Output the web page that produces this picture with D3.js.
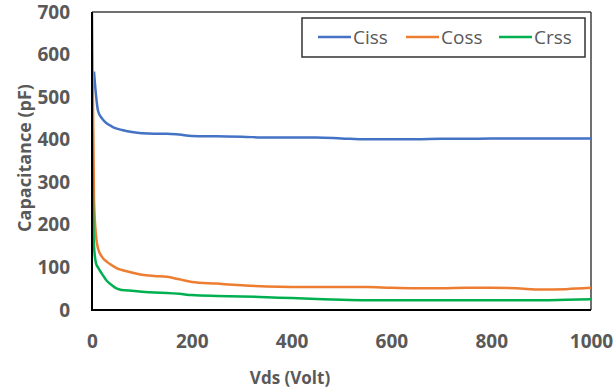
<!DOCTYPE html>
<html>
<head>
<meta charset="utf-8">
<script src="https://cdn.jsdelivr.net/npm/d3@7"></script>
<style>
  body { margin: 0; background: #fff; }
  text { font-family: "Open Sans", sans-serif; }
</style>
</head>
<body>
<svg width="614" height="390"></svg>
<script>
// Vds sweep (Volt)
const vds = [0, 4, 8, 12, 20, 30, 40, 50, 60, 80, 100, 125, 150, 175, 200, 250, 300,
  350, 400, 450, 500, 550, 600, 650, 700, 750, 800, 850, 900, 950, 1000];
// capacitances (pF)
const ciss = [null, 560, 505, 468, 450, 438, 431, 426, 423, 418, 415, 414, 414, 412, 409, 408, 407,
  405, 405, 405, 403, 401, 401, 401, 402, 402, 403, 403, 403, 403, 403];
const coss = [700, 260, 175, 145, 125, 113, 105, 98, 94, 88, 83, 80, 78, 72, 66, 62, 58,
  55, 54, 54, 54, 54, 52, 51, 51, 52, 52, 51, 48, 49, 52];
const crss = [423, 150, 110, 100, 85, 68, 58, 50, 47, 45, 43, 41, 40, 38, 35, 33, 32,
  30, 28, 26, 24, 23, 23, 23, 23, 23, 23, 23, 23, 24, 25];
const seriesNames = ['Ciss', 'Coss', 'Crss'];
const seriesColors = ['#4472C4', '#ED7D31', '#00B050'];
const xTicks = [0, 200, 400, 600, 800, 1000];
const yTicks = [0, 100, 200, 300, 400, 500, 600, 700];

const svg = d3.select('svg');
const margin = {left: 92, top: 12, right: 591, bottom: 310};

const x = d3.scaleLinear().domain([0, 1000]).range([margin.left, margin.right]);
const y = d3.scaleLinear().domain([0, 700]).range([margin.bottom, margin.top]);

svg.append('clipPath').attr('id', 'plot')
  .append('rect')
  .attr('x', margin.left).attr('y', margin.top - 2)
  .attr('width', margin.right - margin.left).attr('height', margin.bottom - margin.top + 2);

// tick labels
const yAxis = svg.append('g')
  .attr('transform', 'translate(70,0)')
  .call(d3.axisLeft(y).tickValues(yTicks).tickFormat(d3.format('d')).tickSize(0).tickPadding(0));
const xAxis = svg.append('g')
  .attr('transform', 'translate(0,334)')
  .call(d3.axisBottom(x).tickValues(xTicks).tickFormat(d3.format('d')).tickSize(0).tickPadding(0));
[yAxis, xAxis].forEach(a => {
  a.select('.domain').remove();
  a.selectAll('text')
    .style('font-family', '"Open Sans", sans-serif')
    .style('font-size', '19px')
    .style('font-weight', 'bold')
    .attr('fill', '#595959');
});

// frame
svg.append('line').attr('x1', margin.left).attr('x2', margin.right)
  .attr('y1', margin.top).attr('y2', margin.top)
  .attr('stroke', '#404040').attr('stroke-width', 1.5);
svg.append('line').attr('x1', margin.right).attr('x2', margin.right)
  .attr('y1', margin.top).attr('y2', margin.bottom)
  .attr('stroke', '#404040').attr('stroke-width', 1.5);

// series
const allSeries = [ciss, coss, crss];
const line = d3.line()
  .defined(d => d[1] != null)
  .x(d => x(d[0]))
  .y(d => y(d[1]))
  .curve(d3.curveMonotoneX);

allSeries.forEach((vals, i) => {
  svg.append('path')
    .datum(vds.map((v, j) => [v, vals[j]]))
    .attr('clip-path', 'url(#plot)')
    .attr('fill', 'none')
    .attr('stroke', seriesColors[i])
    .attr('stroke-width', 2.5)
    .attr('stroke-linejoin', 'round')
    .attr('d', line);
});

svg.append('line').attr('x1', margin.left).attr('x2', margin.left)
  .attr('y1', margin.top).attr('y2', margin.bottom + 1)
  .attr('stroke', '#000').attr('stroke-width', 2);
svg.append('line').attr('x1', margin.left).attr('x2', margin.right)
  .attr('y1', margin.bottom).attr('y2', margin.bottom)
  .attr('stroke', '#000').attr('stroke-width', 2);

// axis titles
svg.append('text')
  .attr('x', 290).attr('y', 384)
  .attr('text-anchor', 'middle')
  .style('font-size', '17px').style('font-weight', 'bold')
  .attr('fill', '#595959')
  .text('Vds (Volt)');
svg.append('text')
  .attr('transform', 'translate(31,158) rotate(-90)')
  .attr('text-anchor', 'middle')
  .style('font-size', '18px').style('font-weight', 'bold')
  .attr('fill', '#595959')
  .text('Capacitance (pF)');

// legend
const legend = svg.append('g');
legend.append('rect')
  .attr('x', 302).attr('y', 18).attr('width', 283).attr('height', 39)
  .attr('fill', '#fff').attr('stroke', '#333').attr('stroke-width', 1.5);
const legendX = [318, 406, 499];
seriesNames.forEach((name, i) => {
  legend.append('line')
    .attr('x1', legendX[i]).attr('x2', legendX[i] + 33)
    .attr('y1', 37).attr('y2', 37)
    .attr('stroke', seriesColors[i]).attr('stroke-width', 2.5);
  legend.append('text')
    .attr('x', legendX[i] + 35).attr('y', 44)
    .style('font-size', '19px')
    .attr('fill', '#595959')
    .text(name);
});
</script>
</body>
</html>
